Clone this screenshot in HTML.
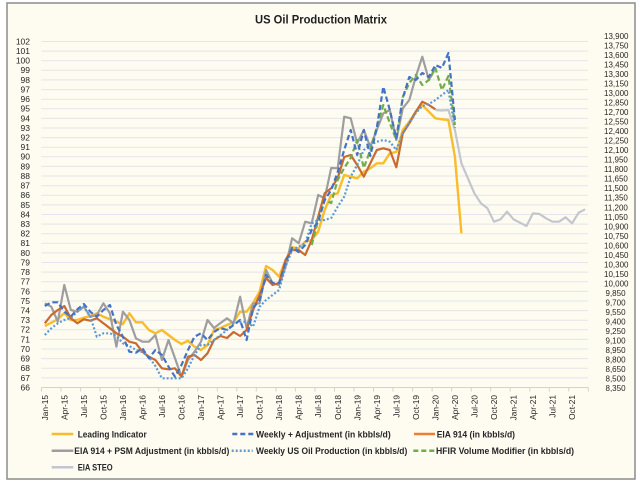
<!DOCTYPE html>
<html><head><meta charset="utf-8">
<style>html,body{margin:0;padding:0;background:#fff;}svg{display:block;}</style>
</head><body>
<svg width="640" height="486" viewBox="0 0 640 486" xmlns="http://www.w3.org/2000/svg" font-family="'Liberation Sans', Arial, sans-serif">
<rect x="0" y="0" width="640" height="486" fill="#ffffff"/>
<rect x="7" y="3" width="628" height="476" fill="#FEFBF1" stroke="#8c8c8c" stroke-width="1.5"/>

<text x="255" y="23.3" font-size="12" font-weight="bold" fill="#1f1f1f" textLength="132" lengthAdjust="spacingAndGlyphs">US Oil Production Matrix</text>

<!-- gridlines -->
<path fill="none" stroke="#E3E5E9" stroke-width="1" d="M41.5 41.5H588M41.5 51.1H588M41.5 60.7H588M41.5 70.3H588M41.5 79.9H588M41.5 89.6H588M41.5 99.2H588M41.5 108.8H588M41.5 118.4H588M41.5 128H588M41.5 137.6H588M41.5 147.2H588M41.5 156.8H588M41.5 166.4H588M41.5 176H588M41.5 185.7H588M41.5 195.3H588M41.5 204.9H588M41.5 214.5H588M41.5 224.1H588M41.5 233.7H588M41.5 243.3H588M41.5 252.9H588M41.5 262.5H588M41.5 272.1H588M41.5 281.8H588M41.5 291.4H588M41.5 301H588M41.5 310.6H588M41.5 320.2H588M41.5 329.8H588M41.5 339.4H588M41.5 349H588M41.5 358.6H588M41.5 368.2H588M41.5 377.9H588"/>
<path fill="none" stroke="#D2D2D2" stroke-width="1" d="M41.5 387.5H588.3M41.5 387.5V391.5M61 387.5V391.5M80.6 387.5V391.5M100.1 387.5V391.5M119.6 387.5V391.5M139.2 387.5V391.5M158.7 387.5V391.5M178.2 387.5V391.5M197.7 387.5V391.5M217.3 387.5V391.5M236.8 387.5V391.5M256.3 387.5V391.5M275.9 387.5V391.5M295.4 387.5V391.5M314.9 387.5V391.5M334.5 387.5V391.5M354 387.5V391.5M373.5 387.5V391.5M393 387.5V391.5M412.6 387.5V391.5M432.1 387.5V391.5M451.6 387.5V391.5M471.2 387.5V391.5M490.7 387.5V391.5M510.2 387.5V391.5M529.8 387.5V391.5M549.3 387.5V391.5M568.8 387.5V391.5M588.3 387.5V391.5"/>

<!-- left axis labels -->
<g font-size="8.5" fill="#262626" text-anchor="end">
<text x="30" y="44.4">102</text><text x="30" y="54">101</text><text x="30" y="63.6">100</text><text x="30" y="73.2">99</text><text x="30" y="82.8">98</text><text x="30" y="92.5">97</text><text x="30" y="102.1">96</text><text x="30" y="111.7">95</text><text x="30" y="121.3">94</text><text x="30" y="130.9">93</text><text x="30" y="140.5">92</text><text x="30" y="150.1">91</text><text x="30" y="159.7">90</text><text x="30" y="169.3">89</text><text x="30" y="178.9">88</text><text x="30" y="188.6">87</text><text x="30" y="198.2">86</text><text x="30" y="207.8">85</text><text x="30" y="217.4">84</text><text x="30" y="227">83</text><text x="30" y="236.6">82</text><text x="30" y="246.2">81</text><text x="30" y="255.8">80</text><text x="30" y="265.4">79</text><text x="30" y="275">78</text><text x="30" y="284.7">77</text><text x="30" y="294.3">76</text><text x="30" y="303.9">75</text><text x="30" y="313.5">74</text><text x="30" y="323.1">73</text><text x="30" y="332.7">72</text><text x="30" y="342.3">71</text><text x="30" y="351.9">70</text><text x="30" y="361.5">69</text><text x="30" y="371.1">68</text><text x="30" y="380.8">67</text><text x="30" y="390.4">66</text>
</g>

<!-- right axis labels -->
<g font-size="8" fill="#262626">
<text x="604" y="38.9">13,900</text>
<text x="604" y="48.4">13,750</text>
<text x="604" y="57.9">13,600</text>
<text x="604" y="67.5">13,450</text>
<text x="604" y="77">13,300</text>
<text x="604" y="86.5">13,150</text>
<text x="604" y="96">13,000</text>
<text x="604" y="105.5">12,850</text>
<text x="604" y="115.1">12,700</text>
<text x="604" y="124.6">12,550</text>
<text x="604" y="134.1">12,400</text>
<text x="604" y="143.6">12,250</text>
<text x="604" y="153.1">12,100</text>
<text x="604" y="162.7">11,950</text>
<text x="604" y="172.2">11,800</text>
<text x="604" y="181.7">11,650</text>
<text x="604" y="191.2">11,500</text>
<text x="604" y="200.7">11,350</text>
<text x="604" y="210.3">11,200</text>
<text x="604" y="219.8">11,050</text>
<text x="604" y="229.3">10,900</text>
<text x="604" y="238.8">10,750</text>
<text x="604" y="248.3">10,600</text>
<text x="604" y="257.9">10,450</text>
<text x="604" y="267.4">10,300</text>
<text x="604" y="276.9">10,150</text>
<text x="604" y="286.4">10,000</text>
<text x="605.5" y="295.9">9,850</text>
<text x="605.5" y="305.5">9,700</text>
<text x="605.5" y="315">9,550</text>
<text x="605.5" y="324.5">9,400</text>
<text x="605.5" y="334">9,250</text>
<text x="605.5" y="343.5">9,100</text>
<text x="605.5" y="353.1">8,950</text>
<text x="605.5" y="362.6">8,800</text>
<text x="605.5" y="372.1">8,650</text>
<text x="605.5" y="381.6">8,500</text>
<text x="605.5" y="391.1">8,350</text>
</g>

<!-- x axis labels -->
<g font-size="8.3" fill="#262626" text-anchor="end">
<text transform="translate(47.8,395) rotate(-90)">Jan-15</text>
<text transform="translate(67.3,395) rotate(-90)">Apr-15</text>
<text transform="translate(86.9,395) rotate(-90)">Jul-15</text>
<text transform="translate(106.4,395) rotate(-90)">Oct-15</text>
<text transform="translate(125.9,395) rotate(-90)">Jan-16</text>
<text transform="translate(145.5,395) rotate(-90)">Apr-16</text>
<text transform="translate(165,395) rotate(-90)">Jul-16</text>
<text transform="translate(184.5,395) rotate(-90)">Oct-16</text>
<text transform="translate(204,395) rotate(-90)">Jan-17</text>
<text transform="translate(223.6,395) rotate(-90)">Apr-17</text>
<text transform="translate(243.1,395) rotate(-90)">Jul-17</text>
<text transform="translate(262.6,395) rotate(-90)">Oct-17</text>
<text transform="translate(282.2,395) rotate(-90)">Jan-18</text>
<text transform="translate(301.7,395) rotate(-90)">Apr-18</text>
<text transform="translate(321.2,395) rotate(-90)">Jul-18</text>
<text transform="translate(340.8,395) rotate(-90)">Oct-18</text>
<text transform="translate(360.3,395) rotate(-90)">Jan-19</text>
<text transform="translate(379.8,395) rotate(-90)">Apr-19</text>
<text transform="translate(399.3,395) rotate(-90)">Jul-19</text>
<text transform="translate(418.9,395) rotate(-90)">Oct-19</text>
<text transform="translate(438.4,395) rotate(-90)">Jan-20</text>
<text transform="translate(457.9,395) rotate(-90)">Apr-20</text>
<text transform="translate(477.5,395) rotate(-90)">Jul-20</text>
<text transform="translate(497,395) rotate(-90)">Oct-20</text>
<text transform="translate(516.5,395) rotate(-90)">Jan-21</text>
<text transform="translate(536.1,395) rotate(-90)">Apr-21</text>
<text transform="translate(555.6,395) rotate(-90)">Jul-21</text>
<text transform="translate(575.1,395) rotate(-90)">Oct-21</text>
</g>

<!-- series -->
<g fill="none" stroke-linejoin="round">
<polyline stroke="#C3C6CE" stroke-width="2.2" points="435.4,110 441.9,110.5 448.4,110 454.9,130 461.4,163.3 467.9,178.3 474.4,193.3 480.9,203.3 487.4,208.3 494,221.7 500.5,219.3 507,211.7 513.5,219.3 520,222.7 526.5,226 533,213.3 539.5,214 546,218.3 552.5,221.7 559,221.7 565.6,217.3 572.1,223.3 578.6,212.7 585.1,209.3"/>
<polyline stroke="#F9BC2C" stroke-width="2.4" points="44.8,326 51.3,322.7 57.8,319.3 64.3,313 70.8,320 77.3,320 83.8,317.7 90.3,316 96.8,313.3 103.4,316.7 109.9,319.3 116.4,321.7 122.9,324 129.4,313.3 135.9,322.3 142.4,322.3 148.9,330 155.4,333.3 161.9,330 168.5,335 175,340 181.5,344 188,340.7 194.5,346.7 201,350 207.5,345 214,330 220.5,328 227,325 233.6,322 240.1,311.7 246.6,311.7 253.1,303 259.6,291.7 266.1,266 272.6,270 279.1,276.7 285.6,260 292.1,247.3 298.7,248.3 305.2,241.7 311.7,240 318.2,231.7 324.7,210 331.2,195 337.7,193.3 344.2,175 350.7,176.7 357.2,178.3 363.8,171.7 370.3,168.3 376.8,163.3 383.3,163.3 389.8,153.3 396.3,152 402.8,130 409.3,121.7 415.8,111.7 422.3,105 428.9,111.7 435.4,118.3 441.9,119.3 448.4,120 454.9,156.7 461.4,233.3"/>
<polyline stroke="#9E9E9E" stroke-width="2.2" points="44.8,303.3 51.3,306.7 57.8,321.7 64.3,285 70.8,310 77.3,311.7 83.8,306.7 90.3,316.7 96.8,315 103.4,303.3 109.9,313.3 116.4,346.7 122.9,311.7 129.4,320 135.9,338.3 142.4,341.7 148.9,341.7 155.4,335 161.9,360 168.5,340 175,358.3 181.5,376.7 188,360 194.5,351.7 201,341.7 207.5,320 214,328 220.5,323 227,318.3 233.6,323.3 240.1,296.7 246.6,328 253.1,303.3 259.6,303.3 266.1,270 272.6,283.3 279.1,285 285.6,266.7 292.1,238.3 298.7,243.3 305.2,221.7 311.7,223.3 318.2,195 324.7,198.3 331.2,168 337.7,168.3 344.2,116.7 350.7,118.3 357.2,143.3 363.8,130 370.3,146.7 376.8,130 383.3,113.3 389.8,110 396.3,140 402.8,108.3 409.3,100 415.8,76.7 422.3,56.7 428.9,80 435.4,68.3"/>
<polyline stroke="#C96A2E" stroke-width="2.2" points="44.8,323.3 51.3,315 57.8,310 64.3,306 70.8,318.3 77.3,323.3 83.8,319.3 90.3,320.7 96.8,318.3 103.4,323.3 109.9,328.3 116.4,333.3 122.9,336.7 129.4,341.7 135.9,343.3 142.4,351.7 148.9,356.7 155.4,360 161.9,368.3 168.5,369.3 175,368.3 181.5,376.7 188,356.7 194.5,355 201,360 207.5,353.3 214,340 220.5,336 227,338 233.6,332 240.1,336 246.6,330 253.1,310 259.6,295 266.1,278 272.6,285 279.1,283 285.6,260 292.1,250 298.7,250 305.2,255 311.7,240 318.2,216.7 324.7,193.3 331.2,188.3 337.7,178 344.2,157 350.7,155 357.2,165 363.8,176.7 370.3,163.3 376.8,150 383.3,148.3 389.8,150 396.3,167.3 402.8,133.3 409.3,123.3 415.8,111.7 422.3,101.7 428.9,105 435.4,109.3"/>
<polyline stroke="#5B9BD5" stroke-width="2.2" stroke-dasharray="2 2" points="44.8,335 51.3,328.3 57.8,323.3 64.3,320 70.8,318 77.3,311.7 83.8,306.7 90.3,316.7 96.8,336.7 103.4,333.3 109.9,333.3 116.4,336 122.9,343.3 129.4,346 135.9,350 142.4,352 148.9,357 155.4,366 161.9,378.3 168.5,378.3 175,378.3 181.5,378.3 188,368.3 194.5,355 201,345 207.5,345 214,340 220.5,335 227,330 233.6,323.3 240.1,322 246.6,321.7 253.1,326.7 259.6,306.7 266.1,300 272.6,295 279.1,290 285.6,266.7 292.1,250 298.7,246.7 305.2,243.3 311.7,223.3 318.2,220 324.7,220 331.2,218 337.7,206.7 344.2,196.7 350.7,176.7 357.2,165 363.8,150 370.3,145 376.8,141.7 383.3,140 389.8,141.7 396.3,150 402.8,133.3 409.3,123.3 415.8,113 422.3,106 428.9,104 435.4,100 441.9,95 448.4,90 454.9,128"/>
<polyline stroke="#70AD47" stroke-width="2.2" stroke-dasharray="5.5 3" points="311.7,245 318.2,220 324.7,200 331.2,203 337.7,180 344.2,168 350.7,158 357.2,140 363.8,168 370.3,150 376.8,127 383.3,105 389.8,123 396.3,140 402.8,97 409.3,83 415.8,75 422.3,85 428.9,80 435.4,68 441.9,90 448.4,76 454.9,125"/>
<polyline stroke="#4472C4" stroke-width="2.2" stroke-dasharray="5.5 3" points="44.8,306 51.3,302.3 57.8,302.3 64.3,311.7 70.8,316.7 77.3,309.3 83.8,304 90.3,311.7 96.8,316.7 103.4,310 109.9,305 116.4,325 122.9,336.7 129.4,351.7 135.9,352.7 142.4,348.3 148.9,358.3 155.4,350 161.9,355 168.5,366.7 175,376.7 181.5,365 188,350 194.5,336.7 201,333.3 207.5,340 214,332 220.5,328 227,330 233.6,325 240.1,320 246.6,340 253.1,308 259.6,300 266.1,275 272.6,283 279.1,283 285.6,262 292.1,248 298.7,252 305.2,245 311.7,230 318.2,221.7 324.7,200 331.2,190 337.7,172 344.2,150 350.7,130 357.2,155 363.8,130 370.3,156 376.8,128 383.3,86.7 389.8,110 396.3,138 402.8,98 409.3,77 415.8,80 422.3,73 428.9,77 435.4,65 441.9,68 448.4,53 454.9,120"/>
</g>

<!-- legend -->
<g stroke-width="2.5" fill="none">
<line x1="51.7" y1="434" x2="73.3" y2="434" stroke="#F9BC2C"/>
<line x1="232.3" y1="434" x2="255" y2="434" stroke="#4472C4" stroke-dasharray="5 3"/>
<line x1="414" y1="434" x2="435" y2="434" stroke="#ED7D31"/>
<line x1="51.7" y1="450.7" x2="73.3" y2="450.7" stroke="#9E9E9E"/>
<line x1="231.7" y1="450.7" x2="252.7" y2="450.7" stroke="#5B9BD5" stroke-dasharray="2 2"/>
<line x1="413.3" y1="450.7" x2="435" y2="450.7" stroke="#70AD47" stroke-dasharray="5 3"/>
<line x1="51.7" y1="467.3" x2="73.3" y2="467.3" stroke="#C3C6CE"/>
</g>
<g font-size="9.5" font-weight="bold" fill="#262626">
<text x="77.7" y="437.4" textLength="69" lengthAdjust="spacingAndGlyphs">Leading Indicator</text>
<text x="256" y="437.4" textLength="134.7" lengthAdjust="spacingAndGlyphs">Weekly + Adjustment (in kbbls/d)</text>
<text x="436.7" y="437.4" textLength="78.3" lengthAdjust="spacingAndGlyphs">EIA 914 (in kbbls/d)</text>
<text x="74.3" y="454.1" textLength="155" lengthAdjust="spacingAndGlyphs">EIA 914 + PSM Adjustment (in kbbls/d)</text>
<text x="256" y="454.1" textLength="151.3" lengthAdjust="spacingAndGlyphs">Weekly US Oil Production (in kbbls/d)</text>
<text x="436" y="454.1" textLength="138" lengthAdjust="spacingAndGlyphs">HFIR Volume Modifier (in kbbls/d)</text>
<text x="77.7" y="470.7" textLength="35" lengthAdjust="spacingAndGlyphs">EIA STEO</text>
</g>
</svg>
</body></html>
